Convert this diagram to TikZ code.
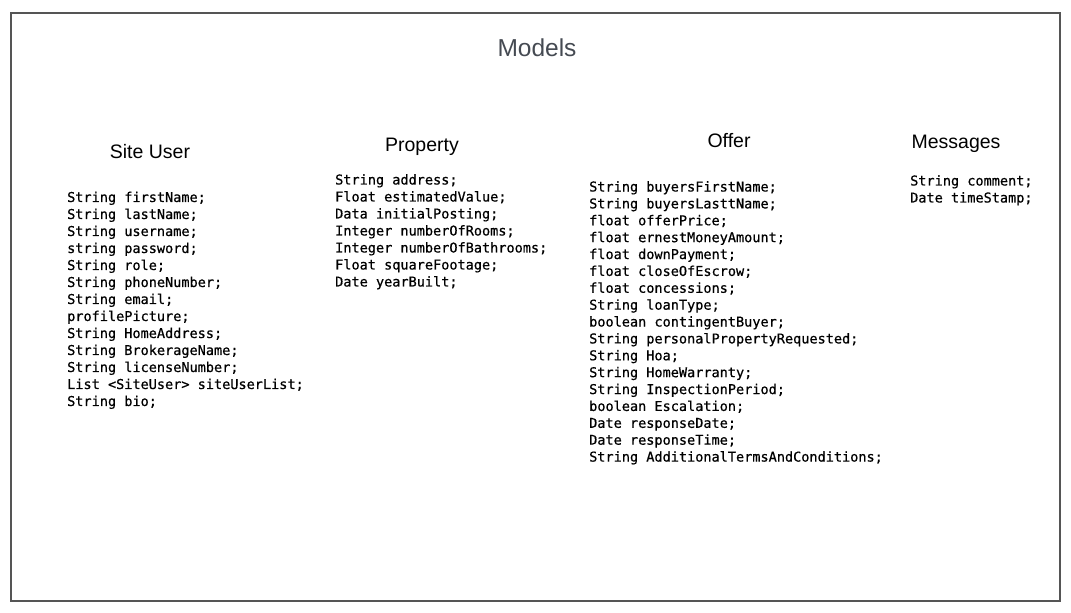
\documentclass[tikz,border=0pt]{standalone}
\usepackage{fontspec}
\setmainfont{Liberation Sans}
\newfontfamily\codefont[FakeBold=0.6]{DejaVu Sans Mono}
\definecolor{framegray}{HTML}{555555}
\definecolor{titlegray}{HTML}{454A52}
\begin{document}
\begin{tikzpicture}[x=1pt,y=-1pt,
  modeltitle/.style={inner sep=0pt, font=\fontsize{19.5}{22}\selectfont, text=black},
  codeblock/.style={anchor=north west, inner sep=0pt, align=left,
    font=\codefont\fontsize{13.55}{17}\selectfont, text=black}]
\useasboundingbox (0,0) rectangle (1071,613);
\draw[framegray, line width=1.3pt] (11,13) rectangle (1060,601);
\node[inner sep=0pt, font=\fontsize{24.5}{28}\selectfont, text=titlegray] (models) at (537,48) {Models};

\node[modeltitle] (siteuser) at (150,152) {Site User};
\node[modeltitle] (property) at (422,147) {Property};
\node[modeltitle] (offer) at (729,141) {Offer};
\node[modeltitle] (messages) at (956,144) {Messages};

\node[codeblock] (siteuserfields) at (67,191.5) {String firstName;\\String lastName;\\String username;\\string password;\\String role;\\String phoneNumber;\\String email;\\profilePicture;\\String HomeAddress;\\String BrokerageName;\\String licenseNumber;\\List <SiteUser> siteUserList;\\String bio;};

\node[codeblock] (propertyfields) at (335,174) {String address;\\Float estimatedValue;\\Data initialPosting;\\Integer numberOfRooms;\\Integer numberOfBathrooms;\\Float squareFootage;\\Date yearBuilt;};

\node[codeblock, font=\codefont\fontsize{13.55}{16.88}\selectfont] (offerfields) at (589,181) {String buyersFirstName;\\String buyersLasttName;\\float offerPrice;\\float ernestMoneyAmount;\\float downPayment;\\float closeOfEscrow;\\float concessions;\\String loanType;\\boolean contingentBuyer;\\String personalPropertyRequested;\\String Hoa;\\String HomeWarranty;\\String InspectionPeriod;\\boolean Escalation;\\Date responseDate;\\Date responseTime;\\String AdditionalTermsAndConditions;};

\node[codeblock] (messagesfields) at (910,175) {String comment;\\Date timeStamp;};
\end{tikzpicture}
\end{document}
